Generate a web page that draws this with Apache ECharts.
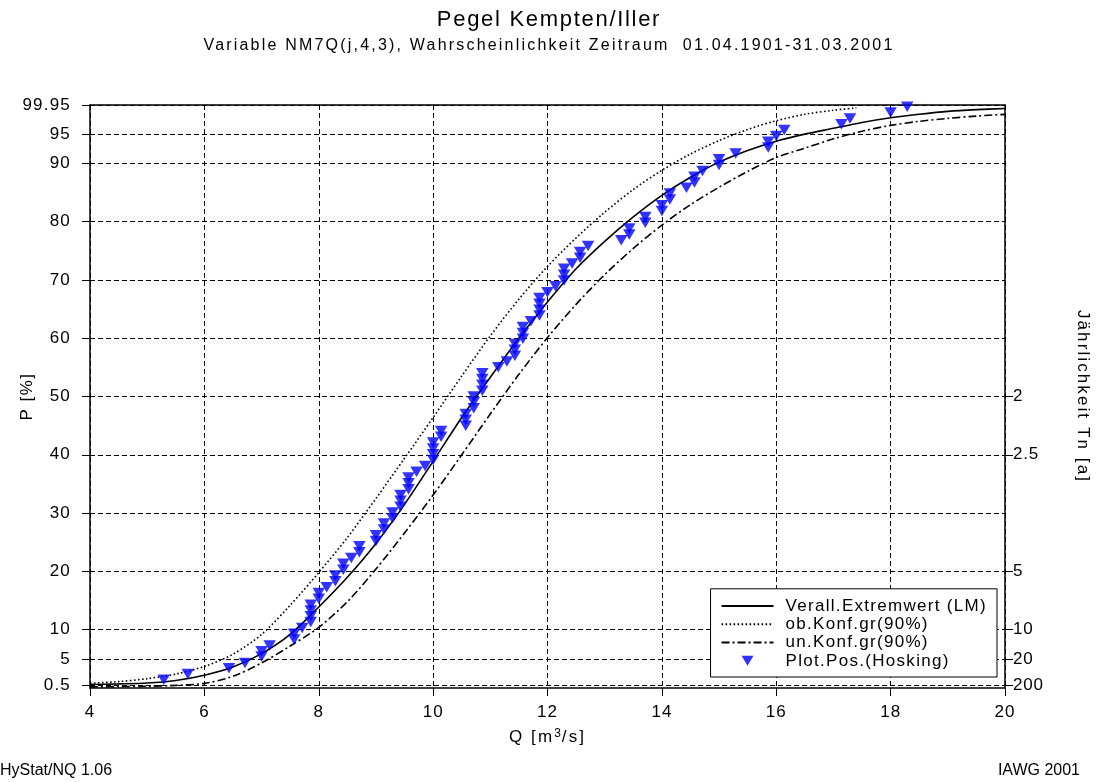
<!DOCTYPE html>
<html><head><meta charset="utf-8">
<script src="https://cdn.jsdelivr.net/npm/echarts@6/dist/echarts.min.js"></script>
<style>html,body{margin:0;padding:0;background:#fff;}#c{width:1098px;height:782px;}</style>
</head><body><div id="c"></div>
<script>
// Wide type of the original: font families carrying a "spNN" tag get NN/10 px letter spacing.
(function () {
  var P = window.CanvasRenderingContext2D && CanvasRenderingContext2D.prototype;
  if (!P || !('letterSpacing' in P)) return;
  var d = Object.getOwnPropertyDescriptor(P, 'font');
  if (!d || !d.set || !d.get) return;
  Object.defineProperty(P, 'font', {
    configurable: true, enumerable: d.enumerable,
    get: function () { return d.get.call(this); },
    set: function (v) {
      d.set.call(this, v);
      var m = /\bsp(\d+)\b/.exec(String(v));
      this.letterSpacing = m ? (parseInt(m[1], 10) / 10) + 'px' : '0px';
    }
  });
})();

// ---- tick labels ----
const leftTickP = [0.5, 5, 10, 20, 30, 40, 50, 60, 70, 80, 90, 95, 99.95];
const leftTickLabels = ['0.5', '5', '10', '20', '30', '40', '50', '60', '70', '80', '90', '95', '99.95'];
const rightTickP = [0.5, 5, 10, 20, 40, 50];
const rightTickLabels = ['200', '20', '10', '5', '2.5', '2'];

// ---- fitted curve: Verall. Extremwert (LM) ----
const qFit = [4, 4.5, 5, 5.5, 6, 6.5, 7, 7.5, 8, 8.5, 9, 9.5, 10, 10.5, 11, 11.5, 12, 12.5, 13, 13.5, 14, 14.5, 15, 15.5, 16, 16.5, 17, 17.5, 18, 18.5, 19, 19.5, 20];
const pFit = [0.6, 0.7, 0.85, 1.3, 2.2, 3.6, 5.9, 9.2, 13.9, 19.0, 24.8, 31.5, 38.9, 46.4, 53.3, 60.0, 66.2, 71.9, 76.6, 80.8, 84.5, 87.6, 90.2, 92.2, 93.8, 95.0, 96.0, 97.0, 97.8, 98.4, 98.9, 99.2, 99.4];

// ---- upper confidence limit (ob.Konf.gr 90%) ----
const qUp = [4, 4.5, 5, 5.5, 6, 6.5, 7, 7.5, 8, 8.5, 9, 9.5, 10, 10.5, 11, 11.5, 12, 12.5, 13, 13.5, 14, 14.5, 15, 15.5, 16, 16.5, 17, 17.4];
const pUp = [0.8, 1.1, 1.6, 2.4, 3.7, 5.8, 9.2, 14.2, 19.8, 25.8, 32.5, 39.4, 46.4, 53.5, 60.4, 66.7, 72.3, 77.2, 81.6, 85.5, 88.8, 91.6, 93.9, 95.8, 97.3, 98.4, 99.1, 99.5];

// ---- lower confidence limit (un.Konf.gr 90%) ----
const qLo = [4, 4.5, 5, 5.5, 6, 6.5, 7, 7.5, 8, 8.5, 9, 9.5, 10, 10.5, 11, 11.5, 12, 12.5, 13, 13.5, 14, 14.5, 15, 15.5, 16, 16.5, 17, 17.5, 18, 18.5, 19, 19.5, 20];
const pLo = [0.2, 0.25, 0.3, 0.45, 0.8, 2.0, 4.3, 7.2, 10.4, 14.8, 20.4, 26.6, 33.1, 40.0, 47.0, 53.8, 60.1, 65.8, 70.9, 75.4, 79.4, 82.9, 85.9, 88.6, 91.0, 92.6, 94.2, 95.5, 96.5, 97.2, 97.7, 98.1, 98.4];

// ---- plotting positions (Hosking) ----
const qObs = [5.29, 5.71, 6.43, 6.71, 7.0, 7.0, 7.14, 7.57, 7.57, 7.71,
  7.86, 7.86, 7.86, 7.86, 8.0, 8.0, 8.14, 8.29, 8.29, 8.43,
  8.43, 8.57, 8.71, 8.71, 9.0, 9.0, 9.14, 9.14, 9.29, 9.29,
  9.43, 9.43, 9.43, 9.57, 9.57, 9.57, 9.71, 9.86, 10.0, 10.0,
  10.0, 10.0, 10.14, 10.14, 10.57, 10.57, 10.57, 10.71, 10.71, 10.71,
  10.86, 10.86, 10.86, 10.86, 11.14, 11.29, 11.43, 11.43, 11.43, 11.57,
  11.57, 11.57, 11.71, 11.86, 11.86, 11.86, 11.86, 12.0, 12.14, 12.29,
  12.29, 12.29, 12.43, 12.57, 12.57, 12.71, 13.29, 13.43, 13.43, 13.71,
  13.71, 14.0, 14.0, 14.14, 14.14, 14.43, 14.57, 14.57, 14.71, 15.0,
  15.0, 15.29, 15.86, 15.86, 16.0, 16.14, 17.14, 17.29, 18.0, 18.29];
const pObs = [1.4, 2.4, 3.4, 4.3, 5.4, 6.3, 7.3, 8.3, 9.3, 10.3,
  11.3, 12.3, 13.3, 14.3, 15.3, 16.3, 17.3, 18.3, 19.3, 20.3,
  21.3, 22.3, 23.3, 24.3, 25.2, 26.2, 27.2, 28.2, 29.1, 30.1,
  31.1, 32.1, 33.1, 34.1, 35.1, 36.1, 37.1, 38.1, 39.1, 40.1,
  41.1, 42.1, 43.1, 44.1, 45.0, 46.0, 47.0, 48.0, 49.0, 50.0,
  51.0, 52.0, 53.0, 54.0, 55.0, 56.0, 57.0, 58.0, 59.0, 59.9,
  60.9, 61.9, 62.9, 63.9, 64.9, 65.9, 66.9, 67.9, 68.9, 69.9,
  70.9, 71.9, 72.8, 73.8, 74.8, 75.8, 76.8, 77.8, 78.8, 79.8,
  80.8, 81.8, 82.8, 83.8, 84.8, 85.8, 86.7, 87.7, 88.7, 89.7,
  90.7, 91.7, 92.7, 93.7, 94.7, 95.7, 96.7, 97.7, 98.7, 99.7];

const fam = (sp) => '"Liberation Sans", Arial, sp' + sp;
const txt = (size, sp) => ({ fontFamily: sp ? fam(sp) : 'Arial, "Liberation Sans"', fontSize: size, color: '#000', fontWeight: 'normal' });
const zip = (a, b) => a.map((v, i) => [v, b[i]]);
const gridDash = { color: '#000', width: 1, type: [5, 3] };
const hideSym = { opacity: 0 };

const chart = echarts.init(document.getElementById('c'), null, { renderer: 'canvas' });
chart.setOption({
  animation: false,
  backgroundColor: '#fff',
  title: [
    { text: 'Pegel Kempten/Iller', left: 'center', top: 3, textStyle: txt(22, 17) },
    { text: 'Variable NM7Q(j,4,3), Wahrscheinlichkeit Zeitraum  01.04.1901-31.03.2001', left: 'center', top: 31, textStyle: txt(16, 22) },
    { text: 'HyStat/NQ 1.06', left: 0, bottom: 3, padding: 0, textStyle: txt(16) },
    { text: 'IAWG 2001', right: 18, bottom: 3, padding: 0, textStyle: txt(16) }
  ],
  grid: { left: 90, right: 93, top: 105, bottom: 94, containLabel: false, outerBoundsMode: 'none' },
  legend: {
    orient: 'vertical', right: 101, bottom: 105, align: 'left',
    backgroundColor: '#fff', borderColor: '#000', borderWidth: 1,
    padding: [8, 10, 7, 10], itemWidth: 52, itemHeight: 10, itemGap: 0,
    textStyle: Object.assign(txt(17, 13), { padding: [0, 0, 0, 7], lineHeight: 18 }),
    data: [
      { name: 'Verall.Extremwert (LM)', itemStyle: hideSym },
      { name: 'ob.Konf.gr(90%)', itemStyle: hideSym },
      { name: 'un.Konf.gr(90%)', itemStyle: hideSym },
      { name: 'Plot.Pos.(Hosking)', icon: 'path://M0,0L12,0L6,10Z' }
    ]
  },
  xAxis: [
    {
      type: 'value', min: 4, max: 20, interval: 2, position: 'bottom',
      axisLine: { onZero: false, lineStyle: { color: '#000', width: 1.5 } },
      axisTick: { length: 8, lineStyle: { color: '#000', width: 1 } },
      axisLabel: Object.assign(txt(17, 10), { margin: 15 }),
      splitLine: { show: true, lineStyle: gridDash },
      name: 'Q [m{sup|3}/s]', nameLocation: 'middle', nameGap: 39, nameMoveOverlap: false,
      nameTextStyle: Object.assign(txt(17, 21), { rich: { sup: Object.assign(txt(12, 10), { verticalAlign: 'top', padding: [0, 0, 7, 0] }) } })
    },
    {
      type: 'value', min: 4, max: 20, position: 'top',
      axisLine: { show: true, onZero: false, lineStyle: { color: '#000', width: 1.5 } },
      axisTick: { show: false }, axisLabel: { show: false }, splitLine: { show: false }
    }
  ],
  yAxis: [
    {
      type: 'value', min: 0, max: 100, position: 'left',
      axisLine: { show: true, onZero: false, lineStyle: { color: '#000', width: 1.5 } },
      axisTick: { show: true, length: 8, customValues: leftTickP, lineStyle: { color: '#000', width: 1 } },
      axisLabel: Object.assign(txt(17, 12), {
        margin: 19, customValues: leftTickP,
        formatter: (v) => leftTickLabels[leftTickP.indexOf(v)] ?? ''
      }),
      splitLine: { show: true, lineStyle: gridDash },
      name: 'P [%]', nameLocation: 'middle', nameGap: 53, nameMoveOverlap: false, nameTextStyle: txt(17, 15)
    },
    {
      type: 'value', min: 0, max: 100, position: 'right',
      axisLine: { show: true, onZero: false, lineStyle: { color: '#000', width: 1.5 } },
      axisTick: { show: true, length: 8, customValues: rightTickP, lineStyle: { color: '#000', width: 1 } },
      axisLabel: Object.assign(txt(17, 8), {
        margin: 8, customValues: rightTickP,
        formatter: (v) => rightTickLabels[rightTickP.indexOf(v)] ?? ''
      }),
      splitLine: { show: false },
      name: 'Jährlichkeit Tn [a]', nameLocation: 'middle', nameGap: 68, nameRotate: -90, nameMoveOverlap: false, nameTextStyle: txt(17, 21)
    }
  ],
  series: [
    {
      name: 'Verall.Extremwert (LM)', type: 'line', data: zip(qFit, pFit),
      symbol: 'none', smooth: 0.3, z: 3,
      lineStyle: { color: '#000', width: 1.6 }, itemStyle: { color: '#000' }
    },
    {
      name: 'ob.Konf.gr(90%)', type: 'line', data: zip(qUp, pUp),
      symbol: 'none', smooth: 0.3, z: 3,
      lineStyle: { color: '#000', width: 1.6, type: [1.6, 2.4] }, itemStyle: { color: '#000' }
    },
    {
      name: 'un.Konf.gr(90%)', type: 'line', data: zip(qLo, pLo),
      symbol: 'none', smooth: 0.3, z: 3,
      lineStyle: { color: '#000', width: 1.6, type: [8, 3, 2, 3] }, itemStyle: { color: '#000' }
    },
    {
      name: 'Plot.Pos.(Hosking)', type: 'scatter', data: zip(qObs, pObs),
      symbol: 'triangle', symbolRotate: 180, symbolSize: [12.5, 10.5], z: 5,
      itemStyle: { color: '#0000ff' }
    }
  ]
});
</script></body></html>
